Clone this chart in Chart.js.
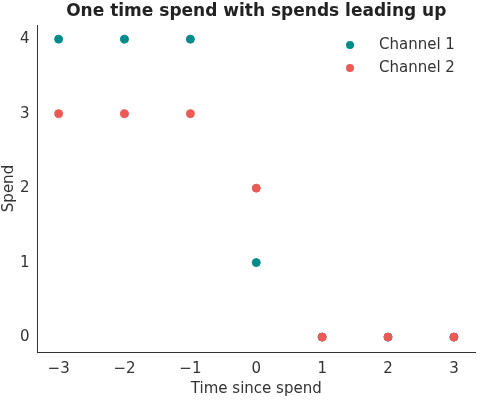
<!DOCTYPE html>
<html>
<head>
<meta charset="utf-8">
<script src="https://cdn.jsdelivr.net/npm/chart.js@4"></script>
<style>
  html, body { margin: 0; padding: 0; background: #fff; }
  #wrap { width: 480px; height: 400px; }
</style>
</head>
<body>
<div id="wrap"><canvas id="chart"></canvas></div>
<script>
// Data
const timeSinceSpend = [-3, -2, -1, 0, 1, 2, 3]
const channel1 = [4, 4, 4, 1, 0, 0, 0]
const channel2 = [3, 3, 3, 2, 0, 0, 0]
const xTicks = [-3, -2, -1, 0, 1, 2, 3]
const yTicks = [0, 1, 2, 3, 4]
const chartTitle = 'One time spend with spends leading up'

const toPoints = function (ys) {
  return timeSinceSpend.map((x, i) => ({ x: x, y: ys[i] }))
}

const textColor = '#333333'
const font = { family: 'DejaVu Sans', size: 15 }

// Title centred over the plot area, legend in its top right corner
const titleAndLegend = {
  id: 'titleAndLegend',
  afterDraw (chart) {
    const ctx = chart.ctx
    const area = chart.chartArea
    ctx.save()
    ctx.fillStyle = '#222'
    ctx.font = 'bold 17px "DejaVu Sans"'
    ctx.textAlign = 'center'
    ctx.textBaseline = 'middle'
    ctx.fillText(chartTitle, (area.left + area.right) / 2, 12)

    ctx.font = '15px "DejaVu Sans"'
    ctx.textAlign = 'left'
    chart.data.datasets.forEach((ds, i) => {
      const y = area.top + 20 + i * 23
      ctx.fillStyle = ds.backgroundColor
      ctx.beginPath()
      ctx.arc(area.right - 125, y, 4, 0, Math.PI * 2)
      ctx.fill()
      ctx.fillStyle = textColor
      ctx.fillText(ds.label, area.right - 96, y)
    })
    ctx.restore()
  }
}

new Chart(document.getElementById('chart').getContext('2d'), {
  type: 'scatter',
  data: {
    datasets: [
      {
        label: 'Channel 1',
        data: toPoints(channel1),
        backgroundColor: '#008b8b',
        borderColor: '#008b8b',
        pointRadius: 4,
        order: 1
      },
      {
        label: 'Channel 2',
        data: toPoints(channel2),
        backgroundColor: '#ec5a55',
        borderColor: '#ec5a55',
        pointRadius: 4,
        order: 0
      }
    ]
  },
  plugins: [titleAndLegend],
  options: {
    responsive: true,
    maintainAspectRatio: false,
    animation: false,
    layout: { padding: { left: 0, right: 3, top: 25, bottom: 0 } },
    plugins: {
      title: { display: false },
      legend: { display: false },
      tooltip: { enabled: false }
    },
    scales: {
      x: {
        type: 'linear',
        min: -3.32,
        max: 3.32,
        afterBuildTicks: axis => { axis.ticks = xTicks.map(v => ({ value: v })) },
        ticks: {
          color: textColor,
          font: font,
          padding: 2,
          callback: v => (v < 0 ? '\u2212' + Math.abs(v) : String(v))
        },
        grid: { display: false, drawOnChartArea: false, drawTicks: true, tickLength: 6, tickColor: '#333' },
        border: { color: '#333', width: 1 },
        title: { display: true, text: 'Time since spend', color: textColor, font: font, padding: { top: 0, bottom: 2 } }
      },
      y: {
        type: 'linear',
        min: -0.2,
        max: 4.19,
        afterBuildTicks: axis => { axis.ticks = yTicks.map(v => ({ value: v })) },
        ticks: { color: textColor, font: font, padding: 2 },
        grid: { display: false, drawOnChartArea: false, drawTicks: true, tickLength: 6, tickColor: '#333' },
        border: { color: '#333', width: 1 },
        title: { display: true, text: 'Spend', color: textColor, font: font, padding: { top: 0, bottom: 0 } }
      }
    }
  }
})
</script>
</body>
</html>
